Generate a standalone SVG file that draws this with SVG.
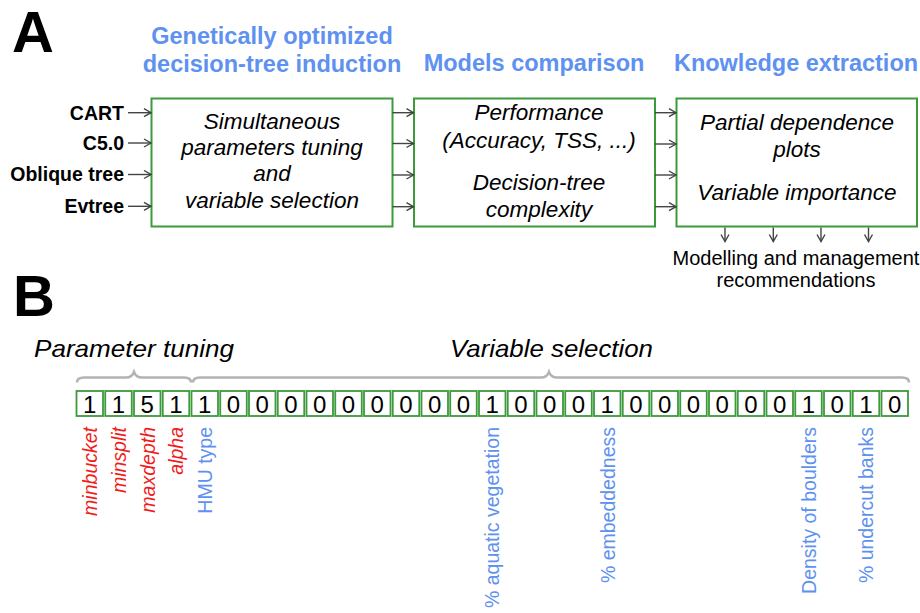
<svg xmlns="http://www.w3.org/2000/svg" width="920" height="613" viewBox="0 0 920 613">
<style>
.bg{fill:#fff}
.box{fill:#fff;stroke:#3c9a3c;stroke-width:2}
.cell{fill:#fff;stroke:#3c9a3c;stroke-width:1.8}
.big{font-family:"Liberation Sans",Arial,sans-serif;font-weight:bold;font-size:58px;fill:#000}
.hdr{font-family:"Liberation Sans",Arial,sans-serif;font-weight:bold;font-size:23.5px;fill:#5e91f0;text-anchor:middle}
.in{font-family:"Liberation Sans",Arial,sans-serif;font-weight:bold;font-size:19.5px;fill:#000;text-anchor:end}
.bt{font-family:"Liberation Sans",Arial,sans-serif;font-style:italic;font-size:22.5px;fill:#000;text-anchor:middle}
.rec{font-family:"Liberation Sans",Arial,sans-serif;font-size:20px;fill:#000;text-anchor:middle}
.sec{font-family:"Liberation Sans",Arial,sans-serif;font-style:italic;font-size:24px;fill:#000}
.dg{font-family:"Liberation Sans",Arial,sans-serif;font-size:24px;fill:#000;text-anchor:middle}
.rl{font-family:"Liberation Sans",Arial,sans-serif;font-style:italic;font-size:19.5px;fill:#f01c1c;text-anchor:end}
.bl{font-family:"Liberation Sans",Arial,sans-serif;font-size:19.5px;fill:#5e91f0;text-anchor:end}
.arr{stroke:#444;stroke-width:1.4;fill:none;marker-end:url(#ah)}
.brace{stroke:#b3b3b3;stroke-width:2.5;fill:none}
</style>
<defs>
<marker id="ah" markerUnits="userSpaceOnUse" markerWidth="10" markerHeight="10" refX="8" refY="5" orient="auto">
<path d="M1,1 L8,5 L1,9" fill="none" stroke="#444" stroke-width="1.4"/>
</marker>
</defs>
<rect class="bg" x="0" y="0" width="920" height="613"/>

<text class="big" x="12" y="52">A</text>
<text class="hdr" x="272" y="44">Genetically optimized</text>
<text class="hdr" x="272" y="72">decision-tree induction</text>
<text class="hdr" x="534" y="70.5">Models comparison</text>
<text class="hdr" x="796" y="70.5">Knowledge extraction</text>

<g id="in-cart"><text class="in" x="124" y="119.5">CART</text></g>
<g id="in-c50"><text class="in" x="124" y="150">C5.0</text></g>
<g id="in-oblique"><text class="in" x="124" y="181">Oblique tree</text></g>
<g id="in-evtree"><text class="in" x="124" y="213">Evtree</text></g>

<g id="box-induction">
<rect class="box" x="151.5" y="98.5" width="241" height="128"/>
<text class="bt" x="272" y="129">Simultaneous</text>
<text class="bt" x="272" y="155">parameters tuning</text>
<text class="bt" x="272" y="181">and</text>
<text class="bt" x="272" y="208">variable selection</text>
</g>
<g id="box-comparison">
<rect class="box" x="414" y="98.5" width="241" height="128"/>
<text class="bt" x="539" y="120">Performance</text>
<text class="bt" x="539" y="148">(Accuracy, TSS, ...)</text>
<text class="bt" x="539" y="190">Decision-tree</text>
<text class="bt" x="539" y="217">complexity</text>
</g>
<g id="box-knowledge">
<rect class="box" x="676.5" y="98.5" width="240.5" height="128"/>
<text class="bt" x="797" y="130">Partial dependence</text>
<text class="bt" x="797" y="157">plots</text>
<text class="bt" x="797" y="200">Variable importance</text>
</g>
<g id="recommendations">
<text class="rec" x="796" y="265">Modelling and management</text>
<text class="rec" x="796" y="287">recommendations</text>
</g>

<g id="connectors">
<line class="arr" x1="128" y1="112.7" x2="151" y2="112.7"/>
<line class="arr" x1="128" y1="143" x2="151" y2="143"/>
<line class="arr" x1="128" y1="174.5" x2="151" y2="174.5"/>
<line class="arr" x1="128" y1="206.3" x2="151" y2="206.3"/>
<line class="arr" x1="392.5" y1="112.7" x2="413.5" y2="112.7"/>
<line class="arr" x1="392.5" y1="143.5" x2="413.5" y2="143.5"/>
<line class="arr" x1="392.5" y1="175" x2="413.5" y2="175"/>
<line class="arr" x1="392.5" y1="206.7" x2="413.5" y2="206.7"/>
<line class="arr" x1="655" y1="112.7" x2="676" y2="112.7"/>
<line class="arr" x1="655" y1="144" x2="676" y2="144"/>
<line class="arr" x1="655" y1="175" x2="676" y2="175"/>
<line class="arr" x1="655" y1="206.7" x2="676" y2="206.7"/>
<line class="arr" x1="725" y1="227.5" x2="725" y2="241.5"/>
<line class="arr" x1="773.3" y1="227.5" x2="773.3" y2="241.5"/>
<line class="arr" x1="821" y1="227.5" x2="821" y2="241.5"/>
<line class="arr" x1="868.5" y1="227.5" x2="868.5" y2="241.5"/>
</g>

<text class="big" x="13" y="316">B</text>
<g id="brace-parameter">
<text class="sec" x="34" y="357" textLength="200" lengthAdjust="spacingAndGlyphs">Parameter tuning</text>
<path class="brace" d="M77,382.5 Q77,377.5 84,377.5 L126,377.5 Q132,377.5 134,372 Q136,377.5 142,377.5 L184,377.5 Q191,377.5 191,382.5"/>
</g>
<g id="brace-variable">
<text class="sec" x="450" y="357" textLength="203" lengthAdjust="spacingAndGlyphs">Variable selection</text>
<path class="brace" d="M193,382.5 Q193,377.5 200,377.5 L541,377.5 Q547,377.5 549,372 Q551,377.5 557,377.5 L902,377.5 Q909,377.5 909,382.5"/>
</g>

<g id="chromosome">
<g id="c0"><rect class="cell" x="76.5" y="391" width="26.5" height="25"/><text class="dg" x="89.75" y="412.5">1</text></g>
<g id="c1"><rect class="cell" x="105.25" y="391" width="26.5" height="25"/><text class="dg" x="118.5" y="412.5">1</text></g>
<g id="c2"><rect class="cell" x="134" y="391" width="26.5" height="25"/><text class="dg" x="147.25" y="412.5">5</text></g>
<g id="c3"><rect class="cell" x="162.75" y="391" width="26.5" height="25"/><text class="dg" x="176" y="412.5">1</text></g>
<g id="c4"><rect class="cell" x="191.5" y="391" width="26.5" height="25"/><text class="dg" x="204.75" y="412.5">1</text></g>
<g id="c5"><rect class="cell" x="220.25" y="391" width="26.5" height="25"/><text class="dg" x="233.5" y="412.5">0</text></g>
<g id="c6"><rect class="cell" x="249" y="391" width="26.5" height="25"/><text class="dg" x="262.25" y="412.5">0</text></g>
<g id="c7"><rect class="cell" x="277.75" y="391" width="26.5" height="25"/><text class="dg" x="291" y="412.5">0</text></g>
<g id="c8"><rect class="cell" x="306.5" y="391" width="26.5" height="25"/><text class="dg" x="319.75" y="412.5">0</text></g>
<g id="c9"><rect class="cell" x="335.25" y="391" width="26.5" height="25"/><text class="dg" x="348.5" y="412.5">0</text></g>
<g id="c10"><rect class="cell" x="364" y="391" width="26.5" height="25"/><text class="dg" x="377.25" y="412.5">0</text></g>
<g id="c11"><rect class="cell" x="392.75" y="391" width="26.5" height="25"/><text class="dg" x="406" y="412.5">0</text></g>
<g id="c12"><rect class="cell" x="421.5" y="391" width="26.5" height="25"/><text class="dg" x="434.75" y="412.5">0</text></g>
<g id="c13"><rect class="cell" x="450.25" y="391" width="26.5" height="25"/><text class="dg" x="463.5" y="412.5">0</text></g>
<g id="c14"><rect class="cell" x="479" y="391" width="26.5" height="25"/><text class="dg" x="492.25" y="412.5">1</text></g>
<g id="c15"><rect class="cell" x="507.75" y="391" width="26.5" height="25"/><text class="dg" x="521" y="412.5">0</text></g>
<g id="c16"><rect class="cell" x="536.5" y="391" width="26.5" height="25"/><text class="dg" x="549.75" y="412.5">0</text></g>
<g id="c17"><rect class="cell" x="565.25" y="391" width="26.5" height="25"/><text class="dg" x="578.5" y="412.5">0</text></g>
<g id="c18"><rect class="cell" x="594" y="391" width="26.5" height="25"/><text class="dg" x="607.25" y="412.5">1</text></g>
<g id="c19"><rect class="cell" x="622.75" y="391" width="26.5" height="25"/><text class="dg" x="636" y="412.5">0</text></g>
<g id="c20"><rect class="cell" x="651.5" y="391" width="26.5" height="25"/><text class="dg" x="664.75" y="412.5">0</text></g>
<g id="c21"><rect class="cell" x="680.25" y="391" width="26.5" height="25"/><text class="dg" x="693.5" y="412.5">0</text></g>
<g id="c22"><rect class="cell" x="709" y="391" width="26.5" height="25"/><text class="dg" x="722.25" y="412.5">0</text></g>
<g id="c23"><rect class="cell" x="737.75" y="391" width="26.5" height="25"/><text class="dg" x="751" y="412.5">0</text></g>
<g id="c24"><rect class="cell" x="766.5" y="391" width="26.5" height="25"/><text class="dg" x="779.75" y="412.5">0</text></g>
<g id="c25"><rect class="cell" x="795.25" y="391" width="26.5" height="25"/><text class="dg" x="808.5" y="412.5">1</text></g>
<g id="c26"><rect class="cell" x="824" y="391" width="26.5" height="25"/><text class="dg" x="837.25" y="412.5">0</text></g>
<g id="c27"><rect class="cell" x="852.75" y="391" width="26.5" height="25"/><text class="dg" x="866" y="412.5">1</text></g>
<g id="c28"><rect class="cell" x="881.5" y="391" width="26.5" height="25"/><text class="dg" x="894.75" y="412.5">0</text></g>
</g>

<g id="labels">
<text class="rl" transform="translate(96.5,427) rotate(-90)">minbucket</text>
<text class="rl" transform="translate(125.5,427) rotate(-90)">minsplit</text>
<text class="rl" transform="translate(154.5,427) rotate(-90)">maxdepth</text>
<text class="rl" transform="translate(183,427) rotate(-90)">alpha</text>
<text class="bl" transform="translate(212,427) rotate(-90)">HMU type</text>
<text class="bl" transform="translate(499,427) rotate(-90)">% aquatic vegetation</text>
<text class="bl" transform="translate(614.5,427) rotate(-90)">% embeddedness</text>
<text class="bl" transform="translate(815.5,427) rotate(-90)">Density of boulders</text>
<text class="bl" transform="translate(873,427) rotate(-90)">% undercut banks</text>
</g>
</svg>
